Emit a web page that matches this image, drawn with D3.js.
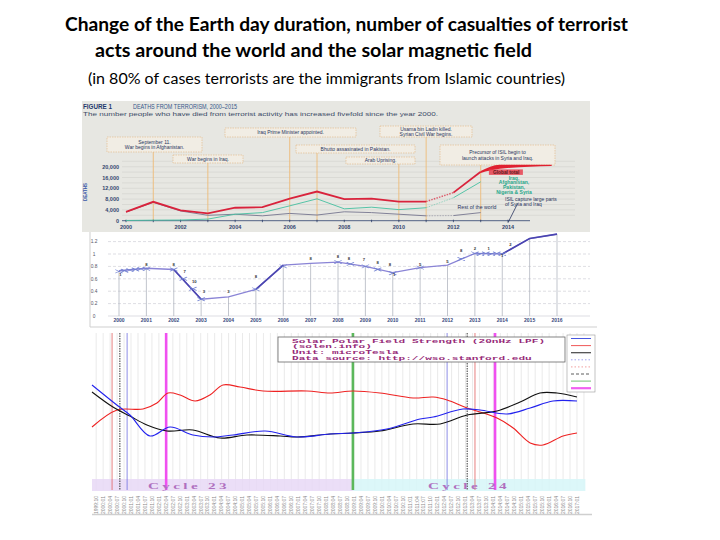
<!DOCTYPE html>
<html><head><meta charset="utf-8">
<script src="https://cdn.jsdelivr.net/npm/d3@7"></script>
<style>body{margin:0;background:#fff}svg{display:block}</style>
</head><body><svg id="c" width="720" height="540"></svg>
<script>
// ================= DATA =================
const titleLines = [
  "Change of the Earth day duration, number of casualties of terrorist",
  "acts around the world and the solar magnetic field",
  "(in 80% of cases terrorists are the immigrants from Islamic countries)"
];

// Panel 1 : deaths from terrorism
const terrorYears = [2000,2001,2002,2003,2004,2005,2006,2007,2008,2009,2010,2011,2012,2013];
const terrorTotal = [3300,7000,3800,2700,4800,5000,8200,10800,8000,8200,7100,7100,10400,18100];
const terrorFive  = [100,200,250,600,2400,3000,5500,8100,4400,5000,4100,4800,8500,14400];
const terrorRest  = [3200,6800,3600,2000,2400,1800,2700,2100,3300,3000,2400,1800,1900,3000];
const terrorTicksY = [0,4000,8000,12000,16000,20000];
const terrorTicksX = [2000,2002,2004,2006,2008,2010,2012,2014];
const totalBandYears = [2013, 2013.7, 2015.6];
const totalBandHi = [18400, 20700, 20700];
const totalBandLo = [17700, 19200, 20300];
const terrorEvents = [
  {year:2001, text:["September 11.","War begins in Afghanistan."]},
  {year:2003, text:["War begins in Iraq."]},
  {year:2006, text:["Iraq Prime Minister appointed."]},
  {year:2007, text:["Bhutto assasinated in Pakistan."]},
  {year:2010, text:["Arab Uprising."]},
  {year:2011, text:["Usama bin Ladin killed.","Syrian Civil War begins."]},
  {year:2013, text:["Precursor of ISIL begin to","launch attacks in Syria and Iraq."]}
];
const fiveLabel = ["Iraq,","Afghanistan,","Pakistan,","Nigeria & Syria"];
const isilLabel = ["ISIL capture large parts","of Syria and Iraq"];

// Panel 2 : Earth day duration
const dayYears  = [2000,2001,2002,2003,2004,2005,2006,2007,2008,2009,2010,2011,2012,2013,2014,2015,2016];
const dayValues = [0.73,0.77,0.75,0.27,0.31,0.43,0.82,0.85,0.87,0.80,0.70,0.78,0.82,1.01,1.00,1.25,1.32];
const dayTicksY = [0,0.2,0.4,0.6,0.8,1,1.2];
const dayMarkYears  = [2000,2000.2,2000.4,2000.6,2000.8,2001,2002,2002.35,2002.7,2003,2005,2006,2008,2008.45,2009,2009.45,2010,2011,2012.5,2013,2013.2,2013.4,2013.6,2013.8,2014];
const dayMarkValues = [0.72,0.73,0.74,0.75,0.76,0.76,0.75,0.60,0.44,0.27,0.43,0.80,0.87,0.84,0.80,0.75,0.69,0.78,0.92,1.01,1.00,1.01,1.00,1.01,1.00];
const dayNoteYears  = [2000.05,2001,2002,2002.4,2002.75,2003.1,2004,2005,2007,2008,2008.4,2008.95,2009.45,2009.9,2010.05,2011,2012,2012.5,2013,2013.5,2014,2014.3];
const dayNoteValues = [0.64,0.80,0.80,0.70,0.53,0.37,0.37,0.61,0.90,0.93,0.90,0.88,0.84,0.80,0.64,0.80,0.85,1.04,1.07,1.06,0.95,1.13];
const dayNoteText   = ["1","8","8","7","10","3","3","8","8","8","8","7","8","8","1","5","5","8","2","1","1","2"];

// Panel 3 : solar polar field strength (micro Tesla)
const solarNorthYears = [1999.6,2000.49,2000.96,2001.68,2002.4,2003.22,2003.94,2004.66,2005.81,2006.96,2008.14,2008.96,2010.18,2011.37,2011.84,2012.91,2013.52,2014.49,2015.32,2016.14,2017.0];
const solarNorth      = [50,10,-10,-52,-34,-50,-54,-50,-42,-54,-48,-46,-38,-18,-14,2,0,-8,4,18,18];
const solarAvgYears   = [1999.6,2000.35,2000.96,2001.57,2002.29,2003.22,2004.19,2005.16,2006.35,2006.96,2008.14,2008.96,2009.93,2011.12,2012.09,2013.06,2014.13,2014.96,2015.67,2016.28,2017.0];
const solarAvg        = [36,6,-12,-30,-42,-40,-56,-50,-52,-54,-48,-46,-42,-28,-28,-10,-2,16,34,34,26];
const solarSouthYears = [1999.6,2000.5,2001.43,2001.93,2002.33,2002.76,2003.3,2003.83,2004.3,2004.91,2005.74,2007.31,2008.14,2008.96,2009.93,2011.12,2011.84,2012.34,2013.06,2014.13,2014.71,2015.32,2015.78,2016.5,2017.0];
const solarSouth      = [-34,0,2,14,34,30,18,30,50,46,38,38,34,38,34,24,26,20,4,-16,-36,-66,-70,-52,-46];
const solarEventYears = [2000.32,2000.6,2000.86,2002.26,2008.96,2012.34,2013.06,2013.34,2014.06];
const solarEventKinds = ["red","black","blue","magenta","green","blue","black","red","magenta"];
const solarLegendText = [
  "Solar Polar Field Strength (20nHz LPF)",
  "(solen.info)",
  "Unit: microTesla",
  "Data source: http://wso.stanford.edu"
];
const cycleNames  = ["Cycle 23","Cycle 24"];
const cycleStarts = [1999.6, 2008.96];
const cycleEnds   = [2008.96, 2017.3];

// ================= DRAW =================
const svg = d3.select("#c");
svg.append("rect").attr("width",720).attr("height",540).attr("fill","#fff");

const tSpec = [
  {x:65, y:31, len:563, size:19.5, w:"bold"},
  {x:95, y:57, len:437, size:19.5, w:"bold"},
  {x:88, y:84, len:477, size:15.5, w:"normal"}
];
titleLines.forEach((t,i)=>{
  svg.append("text").attr("x",tSpec[i].x).attr("y",tSpec[i].y)
    .attr("font-family","Lato, 'Open Sans', sans-serif").attr("font-size",tSpec[i].size)
    .attr("font-weight",tSpec[i].w).attr("fill","#000")
    .attr("textLength",tSpec[i].len).attr("lengthAdjust","spacingAndGlyphs").text(t);
});

// ===== Panel 1 =====
const p1 = svg.append("g");
p1.append("rect").attr("x",82).attr("y",101).attr("width",508).attr("height",131).attr("fill","#e7e7e2");
p1.append("text").attr("x",83).attr("y",109).attr("font-family","Liberation Sans, Arial").attr("font-size",6.3)
  .attr("font-weight","bold").attr("fill","#1f3a6e").text("FIGURE 1");
p1.append("text").attr("x",133).attr("y",109).attr("font-family","Liberation Sans, Arial").attr("font-size",6.3)
  .attr("fill","#36588a").attr("textLength",104).attr("lengthAdjust","spacingAndGlyphs").text("DEATHS FROM TERRORISM, 2000\u20132015");
p1.append("text").attr("x",83).attr("y",116).attr("font-family","Liberation Sans, Arial").attr("font-size",5)
  .attr("fill","#3a4a66").attr("textLength",355).attr("lengthAdjust","spacingAndGlyphs")
  .text("The number people who have died from terrorist activity has increased fivefold since the year 2000.");

const x1 = d3.scaleLinear().domain([2000,2014]).range([126,508]);
const y1 = d3.scaleLinear().domain([0,20000]).range([220.7,166.7]);

p1.selectAll(".g1").data(d3.range(2000,22001,2000)).join("line")
  .attr("x1",122).attr("x2",575).attr("y1",d=>y1(d)).attr("y2",d=>y1(d))
  .attr("stroke","#d2d2cc").attr("stroke-width",0.6);

p1.selectAll(".yl1").data(terrorTicksY).join("text")
  .attr("x",119).attr("y",d=>y1(d)+2).attr("text-anchor","end")
  .attr("font-family","Liberation Sans, Arial").attr("font-size",5.5).attr("font-weight","bold")
  .attr("fill","#34466e").text(d=>d3.format(",")(d));
p1.append("text").attr("transform","translate(87,192) rotate(-90)").attr("text-anchor","middle")
  .attr("font-family","Liberation Sans, Arial").attr("font-size",4.5).attr("font-weight","bold")
  .attr("fill","#3858a8").text("DEATHS");

const boxLayout = {
  2001:[107,202,137,152], 2003:[173,243,155,163], 2006:[225,356,128,137],
  2007:[296,415,145,153], 2010:[346,415,157,164], 2011:[380,472,126,137], 2013:[440,555,145,165]
};
terrorEvents.forEach(ev=>{
  const b = boxLayout[ev.year];
  p1.append("line").attr("x1",x1(ev.year)).attr("x2",x1(ev.year)).attr("y1",b[3]).attr("y2",y1(0))
    .attr("stroke","#edbb78").attr("stroke-width",0.9);
  p1.append("rect").attr("x",b[0]).attr("y",b[2]).attr("width",b[1]-b[0]).attr("height",b[3]-b[2])
    .attr("fill","#f1ede4").attr("stroke","#e3b680").attr("stroke-width",0.6).attr("stroke-dasharray","1.5,1");
  const cx=(b[0]+b[1])/2, n=ev.text.length, mid=(b[2]+b[3])/2;
  ev.text.forEach((t,i)=>{
    p1.append("text").attr("x",cx).attr("y",mid+1.8+(i-(n-1)/2)*5.6).attr("text-anchor","middle")
      .attr("font-family","Liberation Sans, Arial").attr("font-size",5).attr("fill","#2a3560").text(t);
  });
});

p1.append("line").attr("x1",122).attr("x2",530).attr("y1",y1(0)).attr("y2",y1(0)).attr("stroke","#2b3f6b").attr("stroke-width",0.8);
p1.selectAll(".xt1").data(d3.range(2000,2015)).join("line")
  .attr("x1",d=>x1(d)).attr("x2",d=>x1(d)).attr("y1",y1(0)-1).attr("y2",y1(0)+1.5).attr("stroke","#2b3f6b").attr("stroke-width",0.8);
p1.selectAll(".xl1").data(terrorTicksX).join("text")
  .attr("x",d=>x1(d)).attr("y",229).attr("text-anchor","middle")
  .attr("font-family","Liberation Sans, Arial").attr("font-size",5.5).attr("font-weight","bold")
  .attr("fill","#34466e").text(d=>d);

function seg(vals, a, b){ return terrorYears.map((y,i)=>[y,vals[i]]).filter(d=>d[0]>=a&&d[0]<=b); }
const ln1 = d3.line().x(d=>x1(d[0])).y(d=>y1(d[1]));
const ln1c = d3.line().x(d=>x1(d[0])).y(d=>y1(d[1])).curve(d3.curveMonotoneX);
[[terrorRest,"#75758f",0.9],[terrorFive,"#45bfa0",0.9],[terrorTotal,"#d9233c",1.8]].forEach(([v,c,w])=>{
  p1.append("path").attr("d",ln1(seg(v,2000,2011))).attr("fill","none").attr("stroke",c).attr("stroke-width",w);
  p1.append("path").attr("d",ln1(seg(v,2011,2012))).attr("fill","none").attr("stroke",c).attr("stroke-width",w*0.8).attr("stroke-dasharray","1.5,1.2").attr("opacity",0.7);
  p1.append("path").attr("d",ln1c(seg(v,2012,2013))).attr("fill","none").attr("stroke",c).attr("stroke-width",w);
});
const band = totalBandYears.map((y,i)=>({x:y,lo:totalBandLo[i],hi:totalBandHi[i]}));
p1.append("path").attr("d",d3.area().x(d=>x1(d.x)).y0(d=>y1(d.lo)).y1(d=>y1(d.hi)).curve(d3.curveMonotoneX)(band))
  .attr("fill","#e02030");
p1.append("rect").attr("x",x1(2013.3)).attr("y",y1(19000)).attr("width",34).attr("height",5.5).attr("fill","#e84050").attr("opacity",0.85);
p1.append("text").attr("x",x1(2013.45)).attr("y",y1(17400)).attr("font-family","Liberation Sans, Arial").attr("font-size",4.8)
  .attr("font-weight","bold").attr("fill","#5a1a20").text("Global total");
fiveLabel.forEach((t,i)=>{
  p1.append("text").attr("x",514).attr("y",179.5+i*4.8).attr("text-anchor","middle")
    .attr("font-family","Liberation Sans, Arial").attr("font-size",5).attr("font-weight","bold")
    .attr("fill","#28a88a").text(t);
});
p1.append("text").attr("x",477).attr("y",209).attr("text-anchor","middle")
  .attr("font-family","Liberation Sans, Arial").attr("font-size",5.2).attr("fill","#2a3560").text("Rest of the world");
isilLabel.forEach((t,i)=>{
  p1.append("text").attr("x",505).attr("y",201+i*5.2)
    .attr("font-family","Liberation Sans, Arial").attr("font-size",5).attr("fill","#2a3560").text(t);
});
p1.append("line").attr("x1",x1(2014)).attr("y1",y1(0)+2).attr("x2",x1(2014.35)).attr("y2",y1(6300))
  .attr("stroke","#2a3560").attr("stroke-width",0.8);

// ===== Panel 2 =====
const p2 = svg.append("g");
const x2 = d3.scaleLinear().domain([2000,2016]).range([119,557]);
const y2 = d3.scaleLinear().domain([0,1]).range([316,254]);
p2.append("line").attr("x1",90).attr("x2",90).attr("y1",232).attr("y2",327).attr("stroke","#cfcfcf");
p2.append("line").attr("x1",90).attr("x2",597).attr("y1",327).attr("y2",327).attr("stroke","#cfcfcf").attr("stroke-width",1.2);
p2.selectAll(".g2").data(dayTicksY).join("line")
  .attr("x1",108).attr("x2",590).attr("y1",d=>y2(d)).attr("y2",d=>y2(d))
  .attr("stroke","#c8c8d0").attr("stroke-width",0.6).attr("stroke-dasharray",d=>d===0?null:"3,2");
p2.selectAll(".yl2").data(dayTicksY).join("text")
  .attr("x",94).attr("y",d=>y2(d)+1.8).attr("text-anchor","middle")
  .attr("font-family","Liberation Sans, Arial").attr("font-size",4.8).attr("fill","#556")
  .text(d=>d3.format("~g")(d));
p2.selectAll(".xl2").data(dayYears).join("text")
  .attr("x",d=>x2(d)).attr("y",322).attr("text-anchor","middle")
  .attr("font-family","Liberation Sans, Arial").attr("font-size",5).attr("font-weight","bold")
  .attr("fill","#3a4a80").text(d=>d);
p2.selectAll(".dl").data(dayYears.map((y,i)=>[y,dayValues[i]])).join("line")
  .attr("x1",d=>x2(d[0])).attr("x2",d=>x2(d[0])).attr("y1",y2(0)).attr("y2",d=>y2(d[1]))
  .attr("stroke","#a8acb8").attr("stroke-width",0.7);
const dayPts = dayYears.map((y,i)=>[y,dayValues[i]]);
const ln2 = d3.line().x(d=>x2(d[0])).y(d=>y2(d[1]));
p2.append("path").attr("d",ln2(dayPts)).attr("fill","none").attr("stroke","#8a84d6").attr("stroke-width",1.3);
[[2002,2003],[2005,2006],[2014,2016]].forEach(([a,b])=>{
  p2.append("path").attr("d",ln2(dayPts.filter(d=>d[0]>=a&&d[0]<=b))).attr("fill","none")
    .attr("stroke","#4a44b0").attr("stroke-width",1.6);
});
const sym = d3.symbol().type(d3.symbolTimes).size(14);
p2.selectAll(".mk").data(dayMarkYears.map((y,i)=>[y,dayMarkValues[i]])).join("path")
  .attr("d",sym).attr("transform",d=>`translate(${x2(d[0])},${y2(d[1])}) scale(1.7,0.8)`)
  .attr("fill","none").attr("stroke","#6f7fd0").attr("stroke-width",0.7);
p2.selectAll(".nt").data(dayNoteYears.map((y,i)=>[y,dayNoteValues[i],dayNoteText[i]])).join("text")
  .attr("x",d=>x2(d[0])).attr("y",d=>y2(d[1])).attr("text-anchor","middle")
  .attr("font-family","Liberation Sans, Arial").attr("font-size",4.2).attr("font-weight","bold")
  .attr("fill","#333").text(d=>d[2]);

// ===== Panel 3 =====
const p3 = svg.append("g");
const x3 = d3.scaleLinear().domain([1999.6,2017.0]).range([92,577]);
const y3 = d3.scaleLinear().domain([-140,154]).range([480,333]);
const qTicks = d3.range(1999.75, 2017.3, 0.25);
p3.selectAll(".vg").data(qTicks).join("line")
  .attr("x1",d=>x3(d)).attr("x2",d=>x3(d)).attr("y1",333).attr("y2",490)
  .attr("stroke","#dcdcdc").attr("stroke-width",0.6);
cycleNames.forEach((n,i)=>{
  p3.append("rect").attr("x",x3(cycleStarts[i])).attr("y",479).attr("width",x3(cycleEnds[i])-x3(cycleStarts[i])).attr("height",12)
    .attr("fill",i===0?"#e8d8f6":"#d6f6f8").attr("opacity",0.85);
});
const evStyle = {
  red:{c:"#e06060",w:0.8,d:null}, black:{c:"#222",w:0.9,d:"1.5,1"}, blue:{c:"#7070e0",w:0.8,d:null},
  magenta:{c:"#f050f0",w:2.6,d:null}, green:{c:"#5cb85c",w:2.6,d:null}
};
solarEventYears.forEach((yr,i)=>{
  const s = evStyle[solarEventKinds[i]];
  p3.append("line").attr("x1",x3(yr)).attr("x2",x3(yr)).attr("y1",333).attr("y2",490)
    .attr("stroke",s.c).attr("stroke-width",s.w).attr("stroke-dasharray",s.d);
});
cycleNames.forEach((n,i)=>{
  const cx = i===0 ? 189 : 469;
  p3.append("text").attr("x",cx).attr("y",488.5).attr("text-anchor","middle")
    .attr("font-family","'Liberation Serif', serif").attr("font-size",9).attr("font-weight","bold")
    .attr("letter-spacing",2)
    .attr("fill","#b070c0").attr("textLength",82).attr("lengthAdjust","spacingAndGlyphs").text(n);
});
const ln3 = d3.line().x(d=>x3(d[0])).y(d=>y3(d[1])).curve(d3.curveCatmullRom.alpha(0.5));
[[solarSouthYears,solarSouth,"#ee2222"],[solarAvgYears,solarAvg,"#111"],[solarNorthYears,solarNorth,"#2222ee"]].forEach(([xs,vs,c])=>{
  p3.append("path").attr("d",ln3(xs.map((x,i)=>[x,vs[i]]))).attr("fill","none").attr("stroke",c).attr("stroke-width",1.1);
});
p3.append("rect").attr("x",278).attr("y",337).attr("width",287).attr("height",25).attr("fill","#fff").attr("stroke","#666").attr("stroke-width",0.8);
solarLegendText.forEach((t,i)=>{
  const tl = t.length*6.66;
  p3.append("text").attr("x",292).attr("y",342.6+i*5.7)
    .attr("font-family","'Liberation Mono', monospace").attr("font-size",5.2).attr("font-weight","bold")
    .attr("fill","#962a78").attr("textLength",tl).attr("lengthAdjust","spacingAndGlyphs").text(t);
});
p3.append("rect").attr("x",567).attr("y",335).attr("width",28).attr("height",57).attr("fill","#fff").attr("stroke","#999").attr("stroke-width",0.6);
const legStyles = [
  {c:"#3344dd",w:0.9,d:null},{c:"#ee4444",w:0.9,d:null},{c:"#444",w:1.2,d:null},
  {c:"#8888ee",w:0.8,d:"1.5,2"},{c:"#ee8888",w:0.8,d:"1.5,2"},{c:"#333",w:0.8,d:"3,2"},
  {c:"#66bb66",w:0.9,d:null},{c:"#f060f0",w:2.2,d:null}
];
legStyles.forEach((s,i)=>{
  p3.append("line").attr("x1",571).attr("x2",591).attr("y1",338.5+i*7.1).attr("y2",338.5+i*7.1)
    .attr("stroke",s.c).attr("stroke-width",s.w).attr("stroke-dasharray",s.d);
});
const fmtQ = d=>{ const y=Math.floor(d+1e-6); const m=Math.round((d-y)*12)+1; return y+":"+(m<10?"0"+m:m); };
p3.selectAll(".dl3").data(qTicks.filter(d=>d<=2017.2)).join("text")
  .attr("transform",d=>`translate(${x3(d)+1.8},514) rotate(-90)`)
  .attr("font-family","Liberation Sans, Arial").attr("font-size",5).attr("fill","#8a8a8a")
  .text(fmtQ);
p3.append("line").attr("x1",92).attr("x2",592).attr("y1",514.5).attr("y2",514.5).attr("stroke","#cfcfcf").attr("stroke-width",1.4);
</script></body></html>
